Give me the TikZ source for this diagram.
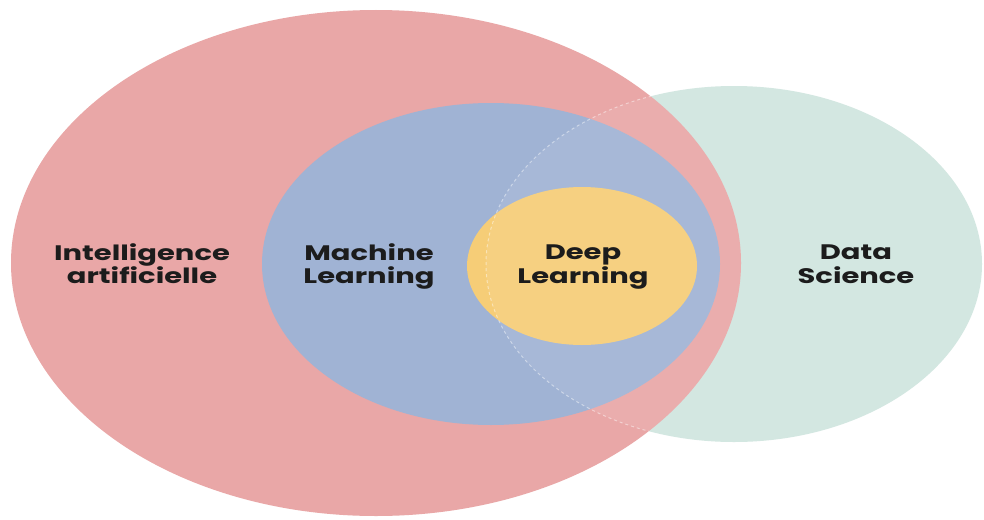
\documentclass[tikz,border=0pt]{standalone}
\usepackage{fontspec}
\usepackage{tikz}
\newfontfamily\vennfont{Poppins}
\definecolor{iared}{HTML}{E9A7A7}
\definecolor{mlblue}{HTML}{A0B3D4}
\definecolor{dlyellow}{HTML}{F6CD77}
\definecolor{dsgreen}{HTML}{D3E7E1}
\definecolor{inkdark}{HTML}{1C1C1C}
% the labels are drawn wide, as in the source
\newcommand{\widelabel}[1]{\scalebox{1.38}[1]{\begin{tabular}{@{}c@{}}#1\end{tabular}}}

\begin{document}
\begin{tikzpicture}[x=1pt,y=-1pt,
	lbl/.style={align=center,text=inkdark,font=\vennfont\bfseries\fontsize{21}{22}\selectfont,inner sep=0pt}]
	\useasboundingbox[fill=white] (0,0) rectangle (984,519);

	% sets
	\fill[dsgreen]  (734,264) ellipse [x radius=248pt, y radius=178pt];
	\fill[iared]    (376,263) ellipse [x radius=365pt, y radius=253pt];
	\fill[mlblue]   (491,264) ellipse [x radius=229pt, y radius=161pt];
	\fill[dlyellow] (582,266) ellipse [x radius=115pt, y radius=79pt];

	% data science seen through AI
	\begin{scope}
		\clip (376,263) ellipse [x radius=365pt, y radius=253pt];
		\fill[white,opacity=0.08] (734,264) ellipse [x radius=248pt, y radius=178pt];
		\draw[white,opacity=0.45,dashed,line width=1pt] (734,264) ellipse [x radius=248pt, y radius=178pt];
	\end{scope}

	\node[lbl] (IA) at (142,267) {\widelabel{Intelligence\\artificielle}};
	\node[lbl] (ML) at (369,267) {\widelabel{Machine\\Learning}};
	\node[lbl] (DL) at (583,267) {\widelabel{Deep\\Learning}};
	\node[lbl] (DS) at (856,267) {\widelabel{Data\\Science}};
\end{tikzpicture}
\end{document}
